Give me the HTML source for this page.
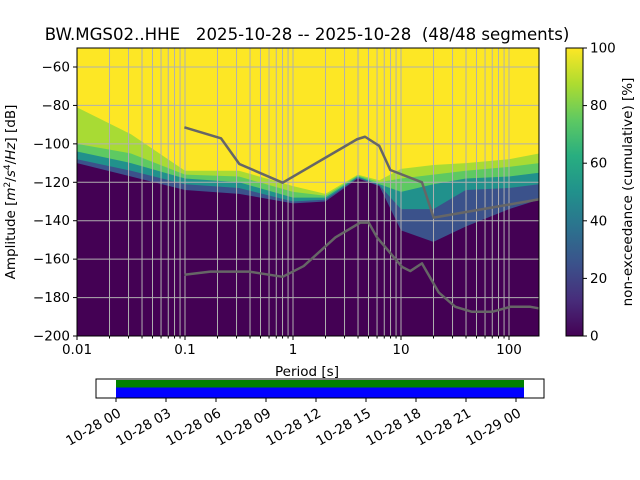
<!DOCTYPE html>
<html><head><meta charset="utf-8"><style>
body{margin:0;background:#fff;}
svg{display:block;font-family:"DejaVu Sans","Liberation Sans",sans-serif;}
text{white-space:pre;}
</style></head><body>
<svg id="c" width="640" height="480" viewBox="0 0 640 480" xmlns="http://www.w3.org/2000/svg">
<defs>
<linearGradient id="vir" x1="0" y1="1" x2="0" y2="0">
<stop offset="0" stop-color="#440154"/><stop offset="0.125" stop-color="#472d7b"/><stop offset="0.25" stop-color="#3b528b"/><stop offset="0.375" stop-color="#2c728e"/><stop offset="0.5" stop-color="#21918c"/><stop offset="0.625" stop-color="#28ae80"/><stop offset="0.75" stop-color="#5ec962"/><stop offset="0.875" stop-color="#addc30"/><stop offset="1" stop-color="#fde725"/>
</linearGradient>
<clipPath id="pc"><rect x="77" y="48" width="462" height="288"/></clipPath>
</defs>
<text x="307" y="40" font-size="16.6" text-anchor="middle">BW.MGS02..HHE   2025-10-28 -- 2025-10-28  (48/48 segments)</text>
<g id="plot" clip-path="url(#pc)"></g>
<g id="grid" clip-path="url(#pc)"></g>
<g id="lines" clip-path="url(#pc)"></g>
<rect x="77" y="48" width="462" height="288" fill="none" stroke="#000" stroke-width="1"/>
<g id="axes" font-size="13.5"></g>
<text x="307" y="376" font-size="13.5" text-anchor="middle">Period [s]</text>
<text transform="translate(15,192) rotate(-90)" font-size="13.5" text-anchor="middle">Amplitude [<tspan font-style="italic">m</tspan><tspan dy="-5" font-size="9">2</tspan><tspan dy="5">/</tspan><tspan font-style="italic">s</tspan><tspan dy="-5" font-size="9">4</tspan><tspan dy="5">/</tspan><tspan font-style="italic">Hz</tspan>] [dB]</text>
<rect x="566" y="48" width="17" height="288" fill="url(#vir)" stroke="#000" stroke-width="1"/>
<g id="cbar" font-size="13.5"></g>
<text transform="translate(632,192) rotate(-90)" font-size="13.5" text-anchor="middle">non-exceedance (cumulative) [%]</text>
<rect x="96" y="379" width="448" height="19" fill="#fff" stroke="#000"/>
<rect x="116" y="380" width="408" height="7.5" fill="#008000"/>
<rect x="116" y="387.5" width="408" height="10" fill="#0000ff"/>
<g id="taxis" font-size="13.5"></g>
</svg>
<script>
const logPeriods=[-2,-1.5,-1,-0.5,0,0.3,0.6,0.8,1.0,1.3,1.6,2.0,2.28];
const edgeYellow=[-81,-95,-114,-114,-122,-126,-116,-119,-113,-111,-110,-108,-105];
const edgeGreen=[-100,-105,-116,-117,-125,-127,-116.5,-120,-118,-116,-114,-112,-110];
const edgeTeal=[-104,-110,-118,-120,-128,-128,-117,-121,-125,-121,-118,-117,-115];
const edgeIndigo=[-108,-114,-121,-123,-130,-129,-117.5,-121.5,-134,-134,-124,-123,-121];
const edgePurple=[-110,-117,-124,-126,-131,-130,-118,-122,-145,-151,-143,-134,-129];
const upperLogP=[-1.006,-0.667,-0.497,-0.096,0.593,0.667,0.799,0.901,1.194,1.302,2.275];
const upperDb=[-91.4,-97.1,-110.5,-120.2,-97.6,-96.3,-101.1,-113.6,-120,-138.4,-128.9];
const lowerLogP=[-1.006,-0.765,-0.404,-0.096,0.099,0.392,0.623,0.701,0.778,1.009,1.086,1.194,1.349,1.503,1.657,1.843,2.012,2.198,2.275];
const lowerDb=[-168.1,-166.5,-166.5,-169.2,-163.6,-148.7,-141,-141,-148.7,-164,-166.2,-162.2,-177.3,-184.8,-187.4,-187.4,-184.8,-184.8,-185.6];
const yTicks=[-60,-80,-100,-120,-140,-160,-180,-200];
const xTickLabels=["0.01","0.1","1","10","100"];
const cbTicks=[0,20,40,60,80,100];
const timeTicks=["10-28 00","10-28 03","10-28 06","10-28 09","10-28 12","10-28 15","10-28 18","10-28 21","10-29 00"];

const NS="http://www.w3.org/2000/svg";
const X=lp=>77+(lp+2)*108;
const Y=db=>67+(-60-db)*269/140;
function mk(tag,attrs,parent){const e=document.createElementNS(NS,tag);for(const k in attrs)e.setAttribute(k,attrs[k]);parent.appendChild(e);return e;}
const plot=document.getElementById('plot');
const bg=mk('rect',{x:77,y:48,width:462,height:288,fill:'#fde725'},plot);


const bands=[[edgeYellow,'#a8db34','band-95'],[edgeGreen,'#5ec962','band-80'],[edgeTeal,'#21918c','band-60'],[edgeIndigo,'#3b528b','band-40'],[edgePurple,'#440154','band-0']];
bands.forEach(([arr,col,name])=>{
  let d='M'+X(logPeriods[0]-0.1)+','+Y(-210);
  arr.forEach((v,i)=>{d+=' L'+X(logPeriods[i])+','+Y(v);});
  d+=' L'+X(2.4)+','+Y(arr[arr.length-1])+' L'+X(2.4)+','+Y(-210)+'Z';
  const p=mk('path',{d:d,fill:col},plot);
  
  
});
const grid=document.getElementById('grid');
for(let dec=-2;dec<=2;dec++)for(let m=1;m<=9;m++){
  const lp=dec+Math.log10(m);if(lp>2.28)continue;
  const l=mk('line',{x1:X(lp),x2:X(lp),y1:48,y2:336,stroke:'#b0b0b0','stroke-width':1},grid);
  
  
}
yTicks.forEach(t=>{const l=mk('line',{x1:77,x2:539,y1:Y(t),y2:Y(t),stroke:'#b0b0b0','stroke-width':1},grid);

});
const lines=document.getElementById('lines');
function poly(xs,ys,name){const pts=xs.map((lp,i)=>X(lp)+','+Y(ys[i])).join(' ');
const p=mk('polyline',{points:pts,fill:'none',stroke:'#666666','stroke-width':2.5,'stroke-linejoin':'round'},lines);

}
poly(upperLogP,upperDb,'nhnm-line');
poly(lowerLogP,lowerDb,'nlnm-line');
const axes=document.getElementById('axes');
yTicks.forEach(t=>{mk('line',{x1:73,x2:77,y1:Y(t),y2:Y(t),stroke:'#000'},axes);
const tx=mk('text',{x:70,y:Y(t)+4.5,'text-anchor':'end'},axes);tx.textContent=String(t).replace('-','\u2212');

});
xTickLabels.forEach((s,i)=>{const x=X(i-2);mk('line',{x1:x,x2:x,y1:336,y2:340,stroke:'#000'},axes);
const tx=mk('text',{x:x,y:354,'text-anchor':'middle'},axes);tx.textContent=s;

});
for(let dec=-2;dec<=2;dec++)for(let m=2;m<=9;m++){const lp=dec+Math.log10(m);if(lp>2.28)continue;
mk('line',{x1:X(lp),x2:X(lp),y1:336,y2:338.5,stroke:'#000'},axes);}
const cb=document.getElementById('cbar');
cbTicks.forEach(t=>{const y=336-t*2.88;mk('line',{x1:583,x2:587,y1:y,y2:y,stroke:'#000'},cb);
const tx=mk('text',{x:590,y:y+4.5},cb);tx.textContent=t;

});
const ta=document.getElementById('taxis');
timeTicks.forEach((s,i)=>{const x=116+i*50;mk('line',{x1:x,x2:x,y1:398,y2:402,stroke:'#000'},ta);
const tx=mk('text',{transform:'translate('+(x+1)+',407) rotate(-30)','text-anchor':'end',y:10},ta);tx.textContent=s;

});
</script>
</body></html>
